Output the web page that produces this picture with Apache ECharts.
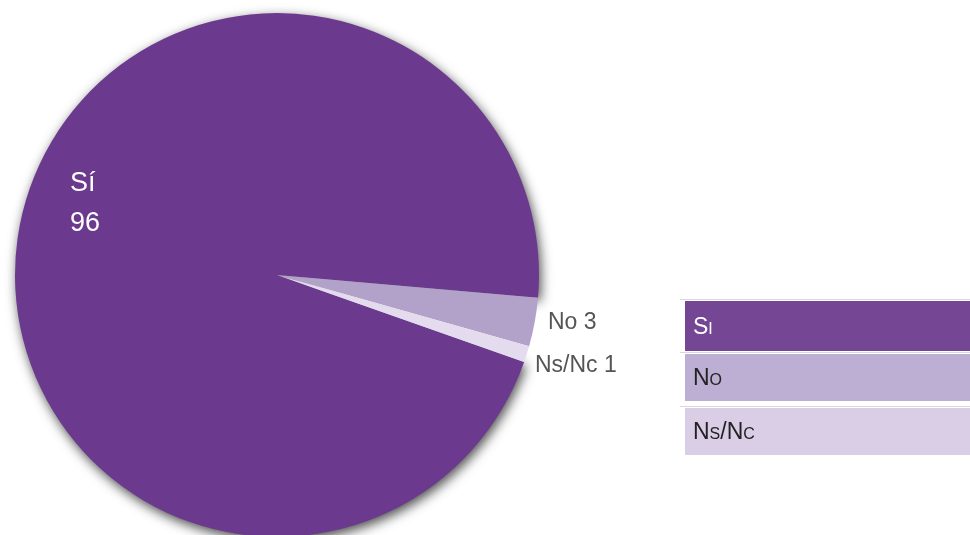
<!DOCTYPE html>
<html>
<head>
<meta charset="utf-8">
<script src="https://cdn.jsdelivr.net/npm/echarts@6/dist/echarts.min.js"></script>
<style>
  html, body { margin: 0; padding: 0; background: #ffffff; }
  #chart { width: 970px; height: 535px; }
</style>
</head>
<body>
<div id="chart"></div>
<script>
// Survey answers (percent)
const categories = ['Sí', 'No', 'Ns/Nc'];
const values = [96, 3, 1];
const legendNames = ['Si', 'No', 'Ns/Nc'];
const sliceColors = ['#6b3a8e', '#b2a2ca', '#e4dcee'];
const legendColors = ['#744694', '#bdaed3', '#dacde6'];
const legendTextColors = ['#ffffff', '#222222', '#222222'];

const FONT = '"Liberation Sans", Arial, Helvetica, sans-serif';
const chart = echarts.init(document.getElementById('chart'), null, { renderer: 'canvas' });

// small-caps helper: lowercase letters rendered as smaller capitals
function smallCaps(str) {
  let out = '';
  for (const ch of str) {
    if (ch >= 'a' && ch <= 'z') out += '{sc|' + ch.toUpperCase() + '}';
    else out += '{big|' + ch + '}';
  }
  return out;
}

const legendGraphics = [];
const legendTop = 301, rowH = 50, rowGap = 4, legendLeft = 685, legendW = 285;
legendNames.forEach(function (name, i) {
  const y = legendTop + i * (rowH + rowGap) - (i > 0 ? 1 : 0);
  legendGraphics.push({
    type: 'rect', left: legendLeft - 5, top: y - 2,
    shape: { width: legendW + 5, height: 1 },
    style: { fill: '#d8d8d8' }, silent: true
  });
  legendGraphics.push({
    type: 'rect', left: legendLeft, top: y,
    shape: { width: legendW, height: i === 0 ? 50 : 47 },
    style: { fill: legendColors[i] }, silent: true
  });
  legendGraphics.push({
    type: 'text', left: legendLeft + 8, top: y + (i === 0 ? 15 : 13),
    style: {
      text: smallCaps(name),
      rich: {
        big: { fontFamily: FONT, fontSize: 23, lineHeight: 26, fill: legendTextColors[i], verticalAlign: 'middle' },
        sc: { fontFamily: FONT, fontSize: 16, lineHeight: 26, fill: legendTextColors[i], verticalAlign: 'middle', padding: [5, 0, 0, 0] }
      }
    },
    silent: true
  });
});

// label anchor points for each slice
const labelPos = [
  { x: 70, y: 204, align: 'left', color: '#ffffff', size: 27 },
  { x: 548, y: 323, align: 'left', color: '#555555', size: 23 },
  { x: 535, y: 366, align: 'left', color: '#555555', size: 23 }
];

const pieData = categories.map(function (c, i) {
  const item = { name: c, value: values[i], itemStyle: { color: sliceColors[i] } };
  if (i === 0) {
    item.itemStyle.shadowBlur = 12;
    item.itemStyle.shadowColor = 'rgba(0,0,0,0.7)';
    item.itemStyle.shadowOffsetY = 4;
    item.itemStyle.shadowOffsetX = 2;
    item.label = { formatter: '{b}\n{c}', lineHeight: 40, color: labelPos[i].color, fontSize: labelPos[i].size };
  } else {
    item.label = { formatter: '{b} {c}', color: labelPos[i].color, fontSize: labelPos[i].size };
  }
  return item;
});

chart.setOption({
  animation: false,
  backgroundColor: '#ffffff',
  graphic: legendGraphics,
  series: [{
    type: 'pie',
    center: [277, 275],
    radius: [0, 262],
    startAngle: -5 + values[0] * 3.6,
    clockwise: true,
    avoidLabelOverlap: false,
    data: pieData,
    label: {
      show: true,
      position: 'outside',
      fontFamily: FONT,
      fontSize: 23,
      color: '#555555'
    },
    labelLine: { show: false },
    labelLayout: function (params) {
      const p = labelPos[params.dataIndex];
      return { x: p.x, y: p.y, align: p.align, verticalAlign: 'middle' };
    },
    itemStyle: { borderWidth: 0 }
  }]
});
</script>
</body>
</html>
